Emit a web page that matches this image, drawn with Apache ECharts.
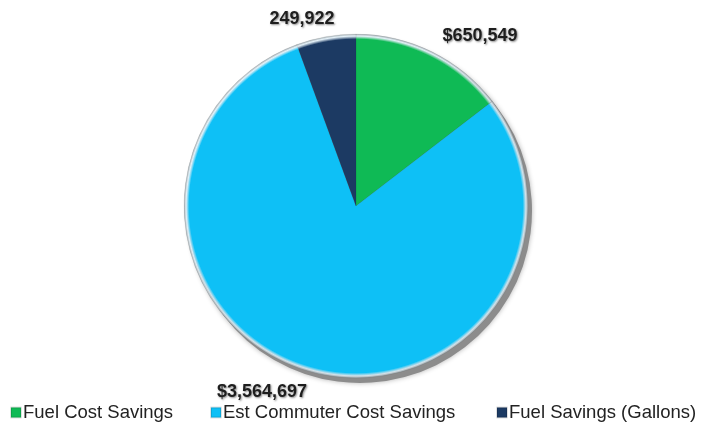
<!DOCTYPE html>
<html>
<head>
<meta charset="utf-8">
<script src="https://cdn.jsdelivr.net/npm/echarts@6/dist/echarts.min.js"></script>
<style>
    html, body {margin: 0; padding: 0; background: #fff;}
    #pie {width: 713px; height: 424px;}
</style>
</head>
<body>
<div id="pie"></div>
<script>
var categories = ['Fuel Cost Savings', 'Est Commuter Cost Savings', 'Fuel Savings (Gallons)'];
var values = [650549, 3564697, 249922];
var labels = ['$650,549', '$3,564,697', '249,922'];
var colors = ['#0fba55', '#0ec0f6', '#1c3a63'];

(function () {
    var cx = 356, cy = 206, r = 172;
    // 标签位置 (像素)
    var labelPos = [[480, 36], [262, 392], [302, 19]];
    // 图例位置
    var legendLeft = [10, 210, 496];

    function shade(c) {
        return {
            type: 'radial', x: cx, y: cy, r: r, global: true,
            colorStops: [
                {offset: 0, color: c},
                {offset: 0.97, color: c},
                {offset: 0.988, color: 'rgba(225,240,248,0.85)'},
                {offset: 1, color: 'rgba(150,160,165,0.9)'}
            ]
        };
    }

    var data = [], shadowData = [];
    for (var i = 0; i < values.length; i++) {
        data.push({
            name: categories[i],
            value: values[i],
            itemStyle: {color: shade(colors[i])}
        });
        shadowData.push({name: categories[i] + ' ', value: values[i]});
    }

    // 每个图例单独放置
    var legends = [];
    for (i = 0; i < categories.length; i++) {
        legends.push({
            data: [{name: categories[i], itemStyle: {color: colors[i]}}],
            left: legendLeft[i],
            top: 403,
            padding: 0,
            icon: 'rect',
            itemWidth: 10,
            itemHeight: 10,
            selectedMode: false,
            textStyle: {fontFamily: 'Liberation Sans, Arial', fontSize: 18.5, color: '#222', padding: [0, 0, 0, -3]}
        });
    }

    var option = {
        animation: false,
        color: colors,
        legend: legends,
        series: [
            {
                // 阴影
                type: 'pie',
                silent: true,
                center: [cx + 4, cy + 5],
                radius: r,
                startAngle: 90,
                clockwise: true,
                label: {show: false},
                labelLine: {show: false},
                itemStyle: {color: '#8c8c8c', shadowColor: 'rgba(0,0,0,0.3)', shadowBlur: 5},
                data: shadowData
            },
            {
                name: 'Savings',
                type: 'pie',
                center: [cx, cy],
                radius: r,
                startAngle: 90,
                clockwise: true,
                itemStyle: {borderColor: 'rgba(0,0,0,0.12)', borderWidth: 0.5},
                label: {
                    show: true,
                    position: 'outside',
                    formatter: function (p) { return labels[p.dataIndex]; },
                    fontFamily: 'Liberation Sans, Arial',
                    fontWeight: 'bold',
                    fontSize: 18,
                    color: '#1e1e1e',
                    textShadowColor: 'rgba(0,0,0,0.45)',
                    textShadowBlur: 2,
                    textShadowOffsetX: 1,
                    textShadowOffsetY: 1
                },
                labelLine: {show: false},
                labelLayout: function (p) {
                    var pos = labelPos[p.dataIndex];
                    return {x: pos[0], y: pos[1], align: 'center', verticalAlign: 'middle'};
                },
                data: data
            }
        ]
    };

    var pie = echarts.init(document.getElementById('pie'));
    pie.setOption(option);
})();
</script>
</body>
</html>
